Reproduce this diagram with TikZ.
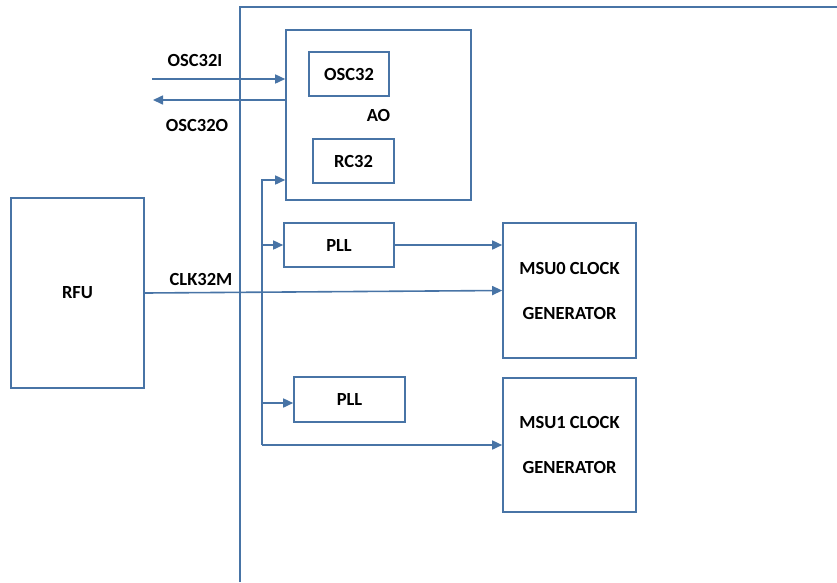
\documentclass[tikz,border=0pt]{standalone}
\usepackage{fontspec}
\setmainfont{Carlito}
\usetikzlibrary{arrows.meta}
\definecolor{ln}{RGB}{72,116,166}
\begin{document}
\begin{tikzpicture}[x=1pt,y=-1pt,
  font=\fontsize{18.5}{45}\selectfont\bfseries,
  box/.style={draw=ln, line width=1.6pt, inner sep=0pt, align=center},
  arr/.style={draw=ln, line width=1.6pt, -{Triangle[length=10pt,width=9pt]}},
  wire/.style={draw=ln, line width=1.6pt},
  lbl/.style={inner sep=0pt}]
\useasboundingbox (0,0) rectangle (837,582);
% frame
\coordinate (fb) at (240,582);
\coordinate (ft) at (240,7);
\coordinate (fr) at (837,7);
\draw[wire] (fb) -- (ft) -- (fr);
% boxes
\node[box, minimum width=185pt, minimum height=170pt] (AO) at (378.5,115) {AO};
\node[box, minimum width=80pt, minimum height=44pt] (OSC) at (349,74) {OSC32};
\node[box, minimum width=81pt, minimum height=44pt] (RC) at (353.5,161) {RC32};
\node[box, minimum width=110pt, minimum height=44pt] (PLLa) at (339,245) {PLL};
\node[box, minimum width=111pt, minimum height=45pt] (PLLb) at (349.5,399.5) {PLL};
\node[box, minimum width=133pt, minimum height=135pt] (MSU0) at (569.5,290.5) {MSU0 CLOCK\\GENERATOR};
\node[box, minimum width=133pt, minimum height=134pt] (MSU1) at (569.5,445) {MSU1 CLOCK\\GENERATOR};
\node[box, minimum width=133pt, minimum height=190pt] (RFU) at (77.5,293) {RFU};
% labels
\node[lbl] (l1) at (195,60) {OSC32I};
\node[lbl] (l2) at (197,125) {OSC32O};
\node[lbl] (l3) at (201,279) {CLK32M};
% OSC32 in/out
\coordinate (i1) at (152,79);
\coordinate (o1) at (153,100);
\draw[arr] (i1) -- (i1 -| AO.west);
\draw[arr] (o1 -| AO.west) -- (o1);
% internal clock bus
\coordinate (bt) at (262,180);
\coordinate (b1) at (262,245);
\coordinate (b2) at (262,403);
\coordinate (bb) at (262,445);
\draw[arr] (bb) -- (bt) -- (bt -| AO.west);
\draw[arr] (b1) -- (b1 -| PLLa.west);
\draw[arr] (b2) -- (b2 -| PLLb.west);
\draw[arr] (bb) -- (bb -| MSU1.west);
\draw[arr] (PLLa.east) -- (PLLa.east -| MSU0.west);
\draw[arr] (RFU.east) -- (MSU0.west);
\end{tikzpicture}
\end{document}
